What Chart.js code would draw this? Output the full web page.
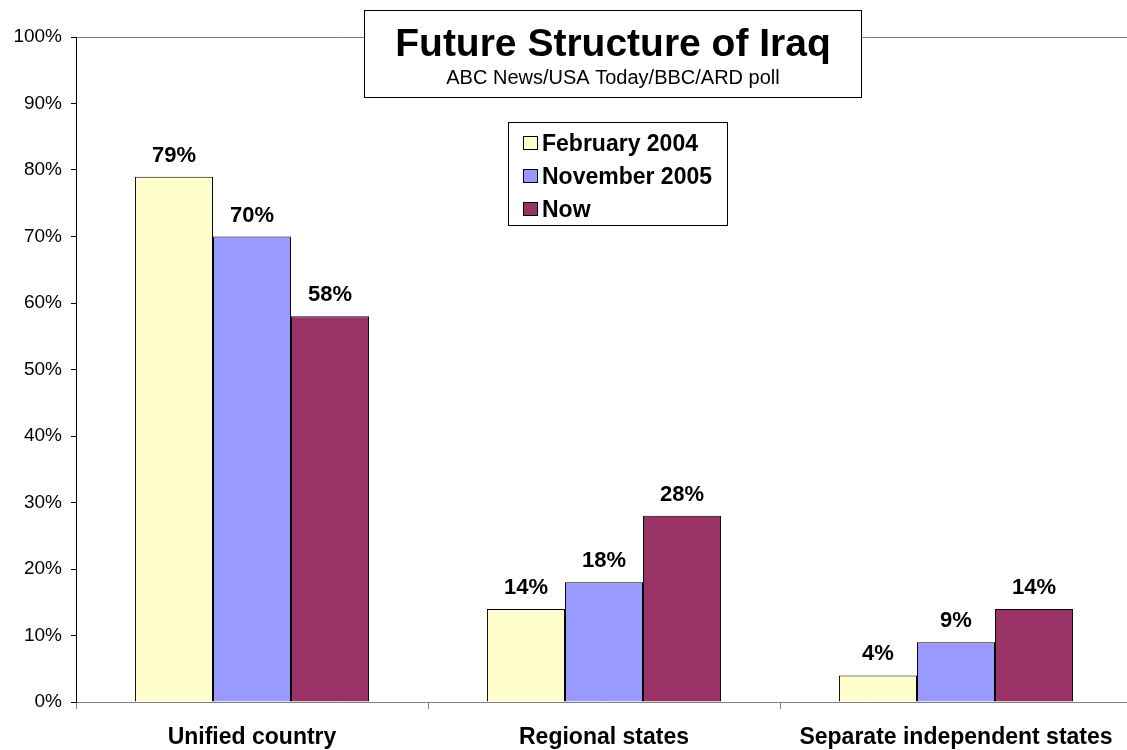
<!DOCTYPE html>
<html>
<head>
<meta charset="utf-8">
<script src="https://cdn.jsdelivr.net/npm/chart.js@4/dist/chart.umd.min.js"></script>
<style>
  html, body { margin: 0; padding: 0; background: #fff; overflow: hidden; }
  #wrap { width: 1132px; height: 750px; }
</style>
</head>
<body>
<div id="wrap"><canvas id="myChart" width="1132" height="750"></canvas></div>
<script>
var categories = ['Unified country', 'Regional states', 'Separate independent states'];
var seriesNames = ['February 2004', 'November 2005', 'Now'];
var feb2004 = [79, 14, 4];
var nov2005 = [70, 18, 9];
var now = [58, 28, 14];
var yTicks = [0, 10, 20, 30, 40, 50, 60, 70, 80, 90, 100];
var chartTitle = 'Future Structure of Iraq';
var chartSubtitle = 'ABC News/USA Today/BBC/ARD poll';

var FONT = '"Liberation Sans", Arial, sans-serif';

// title box, legend box and value labels
var extras = {
    id: 'extras',
    afterDatasetsDraw: function (chart) {
        var ctx = chart.ctx;
        ctx.save();
        ctx.fillStyle = '#000';
        ctx.textAlign = 'center';
        ctx.textBaseline = 'alphabetic';
        ctx.font = 'bold 22px ' + FONT;
        chart.data.datasets.forEach(function (ds, i) {
            chart.getDatasetMeta(i).data.forEach(function (bar, j) {
                ctx.fillText(ds.data[j] + '%', bar.x, bar.y - 15);
            });
        });

        // title box
        ctx.fillStyle = '#fff';
        ctx.fillRect(364, 10, 498, 87);
        ctx.strokeStyle = '#000';
        ctx.lineWidth = 1;
        ctx.strokeRect(364.5, 10.5, 497, 87);
        ctx.fillStyle = '#000';
        ctx.font = 'bold 39px ' + FONT;
        ctx.fillText(chartTitle, 613, 56);
        ctx.font = '20px ' + FONT;
        ctx.fillText(chartSubtitle, 613, 84);

        // legend box
        ctx.fillStyle = '#fff';
        ctx.fillRect(508, 122, 220, 104);
        ctx.strokeStyle = '#000';
        ctx.strokeRect(508.5, 122.5, 219, 103);
        ctx.textAlign = 'left';
        ctx.font = 'bold 23px ' + FONT;
        chart.data.datasets.forEach(function (ds, i) {
            var cy = 143 + i * 33;
            ctx.fillStyle = ds.backgroundColor;
            ctx.fillRect(523, cy - 7, 15, 14);
            ctx.strokeStyle = '#000';
            ctx.strokeRect(523.5, cy - 6.5, 14, 13);
            ctx.fillStyle = '#000';
            ctx.fillText(ds.label, 542, cy + 8);
        });
        ctx.restore();
    }
};

new Chart('myChart', {
    type: 'bar',
    data: {
        labels: categories,
        datasets: [{
            label: seriesNames[0],
            data: feb2004,
            backgroundColor: '#FFFFCC',
            borderColor: '#000',
            borderWidth: 1
        }, {
            label: seriesNames[1],
            data: nov2005,
            backgroundColor: '#9999FF',
            borderColor: '#000',
            borderWidth: 1
        }, {
            label: seriesNames[2],
            data: now,
            backgroundColor: '#993366',
            borderColor: '#000',
            borderWidth: 1
        }]
    },
    options: {
        responsive: false,
        animation: false,
        layout: { padding: { top: 37, right: 0, bottom: 0, left: 0 } },
        datasets: { bar: { categoryPercentage: 0.665, barPercentage: 1.0 } },
        plugins: {
            legend: { display: false },
            tooltip: { enabled: false }
        },
        scales: {
            x: {
                afterFit: function (s) { s.height = 48; },
                border: { color: '#808080', width: 1 },
                grid: {
                    offset: true,
                    drawOnChartArea: false,
                    tickLength: 7,
                    tickColor: '#808080'
                },
                ticks: {
                    color: '#000',
                    padding: 15,
                    font: { family: FONT, size: 23, weight: 'bold' }
                }
            },
            y: {
                min: 0,
                max: 100,
                afterFit: function (s) { s.width = 76; },
                afterBuildTicks: function (s) {
                    s.ticks = yTicks.map(function (v) { return { value: v }; });
                },
                border: { color: '#000', width: 1 },
                grid: {
                    color: function (c) { return c.tick && c.tick.value === 100 ? '#808080' : 'rgba(0,0,0,0)'; },
                    tickLength: 5,
                    tickColor: '#000'
                },
                ticks: {
                    color: '#000',
                    padding: 9,
                    font: { family: FONT, size: 19 },
                    callback: function (v) { return v + '%'; }
                }
            }
        }
    },
    plugins: [extras]
});
</script>
</body>
</html>
